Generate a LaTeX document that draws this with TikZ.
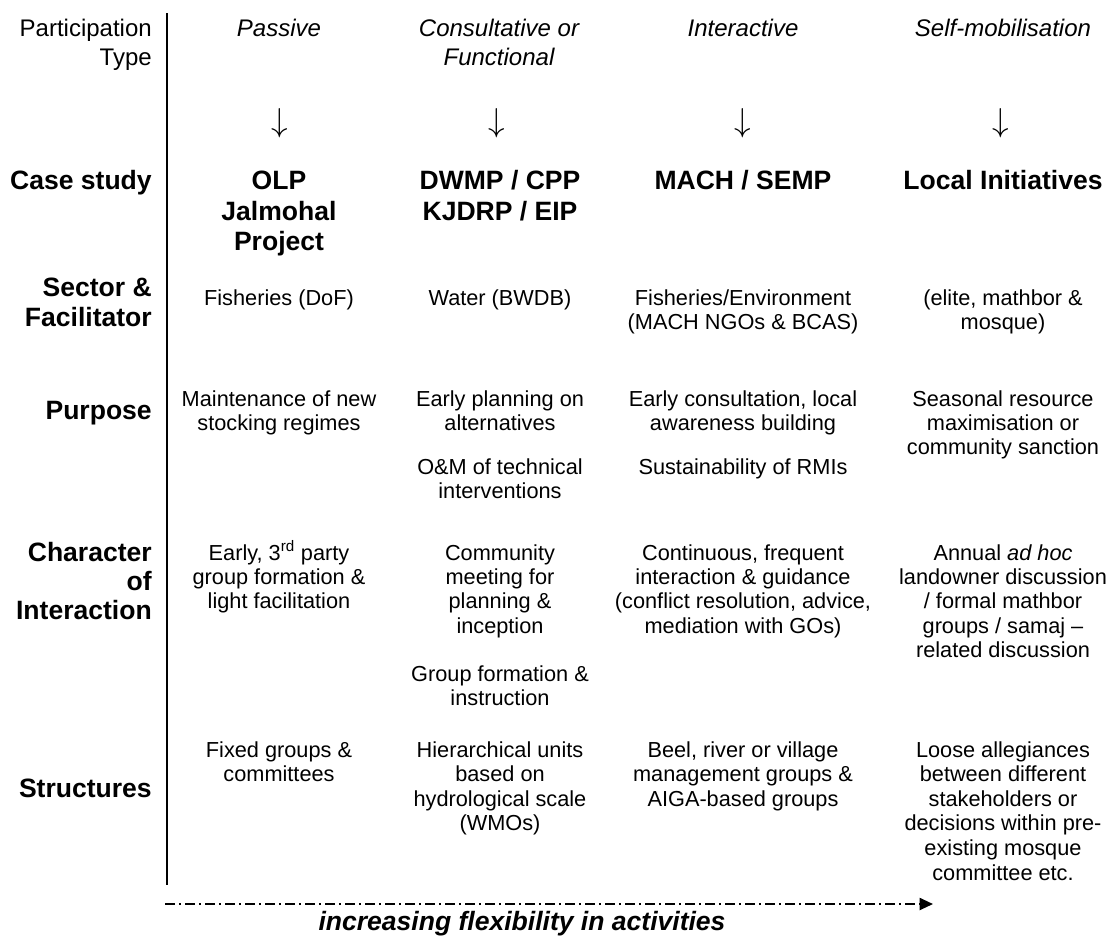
\documentclass[tikz,border=0pt]{standalone}
\usepackage{fontspec}
\setmainfont{Liberation Sans}
\usetikzlibrary{arrows.meta}
\tikzset{
  body/.style={font=\fontsize{16.3pt}{18pt}\selectfont, anchor=base, inner sep=0pt},
  hdr/.style={font=\fontsize{18pt}{20pt}\selectfont\itshape, anchor=base, inner sep=0pt},
  ptype/.style={font=\fontsize{18pt}{20pt}\selectfont, anchor=base east, inner sep=0pt},
  lab/.style={font=\fontsize{19.9pt}{22pt}\selectfont\bfseries, anchor=base east, inner sep=0pt},
  casetxt/.style={font=\fontsize{19.9pt}{22pt}\selectfont\bfseries, anchor=base, inner sep=0pt},
  arrglyph/.style={font=\fontsize{26pt}{28pt}\selectfont, anchor=center, inner sep=0pt},
  flextxt/.style={font=\fontsize{19.9pt}{22pt}\selectfont\bfseries\itshape, anchor=base, inner sep=0pt},
  rule/.style={line width=1.5pt},
  flexarrow/.style={line width=1.5pt, dash pattern=on 7.5pt off 3pt on 1.5pt off 3pt,
    -{Triangle[length=10pt,width=9pt]}}
}
\newcommand\txtlines[6]{\foreach \ltext [count=\k] in {#6} {\node[#2] (#1-\k) at (#3,{#4+(\k-1)*#5}) {\ltext};}}
\begin{document}
\begin{tikzpicture}[x=0.75pt,y=-0.75pt]
\fill[white] (0,0) rectangle (1107,940);
\useasboundingbox (0,0) rectangle (1107,940);
% vertical rule
\coordinate (vt) at (167,13);
\coordinate (vb) at (167,885);
\draw[rule] (vt) -- (vb);
% left labels
\txtlines{lpt}{ptype}{152}{36}{29.5}{Participation,Type}
\txtlines{lcs}{lab}{152}{189.5}{30}{Case study}
\txtlines{lsf}{lab}{152}{296.5}{30}{Sector \&,Facilitator}
\txtlines{lpu}{lab}{152}{419.5}{30}{Purpose}
\txtlines{lch}{lab}{152}{561.5}{29}{Character,of,Interaction}
\txtlines{lst}{lab}{152}{797.5}{30}{Structures}
% headers
\txtlines{h1}{hdr}{279}{36}{29.5}{Passive}
\txtlines{h2}{hdr}{499}{36}{29.5}{Consultative or,Functional}
\txtlines{h3}{hdr}{743}{36}{29.5}{Interactive}
\txtlines{h4}{hdr}{1003}{36}{29.5}{Self-mobilisation}
% arrows
\node[arrglyph] (a1) at (280,123) {$\downarrow$};
\node[arrglyph] (a2) at (497,123) {$\downarrow$};
\node[arrglyph] (a3) at (743,123) {$\downarrow$};
\node[arrglyph] (a4) at (1001,123) {$\downarrow$};
% case studies
\txtlines{c1}{casetxt}{279}{189.5}{30.5}{OLP,Jalmohal,Project}
\txtlines{c2}{casetxt}{500}{189.5}{30.5}{DWMP / CPP,KJDRP / EIP}
\txtlines{c3}{casetxt}{743}{189.5}{30.5}{MACH / SEMP}
\txtlines{c4}{casetxt}{1003}{189.5}{30.5}{Local Initiatives}
% sector
\txtlines{s1}{body}{279}{305}{24.4}{Fisheries (DoF)}
\txtlines{s2}{body}{500}{305}{24.4}{Water (BWDB)}
\txtlines{s3}{body}{743}{305}{24.4}{Fisheries/Environment,(MACH NGOs \& BCAS)}
\txtlines{s4}{body}{1003}{305}{24.4}{{(elite, mathbor \&},mosque)}
% purpose
\txtlines{p1}{body}{279}{406}{24.4}{Maintenance of new,stocking regimes}
\txtlines{p2a}{body}{500}{406}{24.4}{Early planning on,alternatives}
\txtlines{p2b}{body}{500}{474}{24.4}{O\&M of technical,interventions}
\txtlines{p3a}{body}{743}{406}{24.4}{{Early consultation, local},awareness building}
\txtlines{p3b}{body}{743}{474}{24.4}{Sustainability of RMIs}
\txtlines{p4}{body}{1003}{406}{24.4}{Seasonal resource,maximisation or,community sanction}
% character of interaction
\txtlines{ch1}{body}{279}{560}{24.4}{{Early, 3\textsuperscript{rd} party},group formation \&,light facilitation}
\txtlines{ch2a}{body}{500}{560}{24.4}{Community,meeting for,planning \&,inception}
\txtlines{ch2b}{body}{500}{681}{24.4}{Group formation \&,instruction}
\txtlines{ch3}{body}{743}{560}{24.4}{{Continuous, frequent},interaction \& guidance,{(conflict resolution, advice,},mediation with GOs)}
\txtlines{ch4}{body}{1003}{560}{24.4}{Annual \textit{ad hoc},landowner discussion,/ formal mathbor,groups / samaj –,related discussion}
% structures
\txtlines{st1}{body}{279}{757}{24.6}{Fixed groups \&,committees}
\txtlines{st2}{body}{500}{757}{24.6}{Hierarchical units,based on,hydrological scale,(WMOs)}
\txtlines{st3}{body}{743}{757}{24.6}{{Beel, river or village},management groups \&,AIGA-based groups}
\txtlines{st4}{body}{1003}{757}{24.6}{Loose allegiances,between different,stakeholders or,decisions within pre-,existing mosque,committee etc.}
% flexibility arrow
\coordinate (fs) at (165,904);
\coordinate (fe) at (933,904);
\draw[flexarrow] (fs) -- (fe);
\node[flextxt] (flex) at (522,930) {increasing flexibility in activities};
\end{tikzpicture}
\end{document}
